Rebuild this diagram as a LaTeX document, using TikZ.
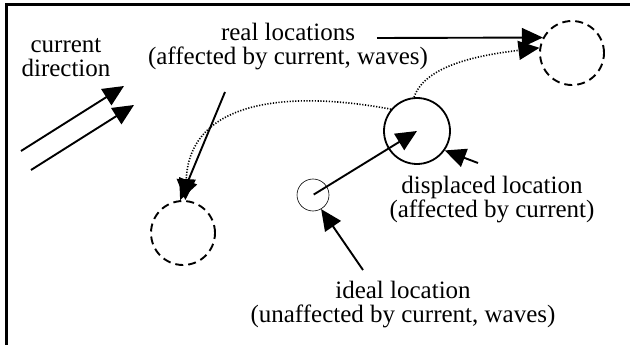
\documentclass[tikz,border=0pt]{standalone}
\usepackage{fontspec}
\setmainfont{Liberation Serif}
\usetikzlibrary{arrows.meta}
\begin{document}
\begin{tikzpicture}[x=1pt,y=-1pt,
  lbl/.style={align=center,inner sep=0pt,font=\fontsize{25}{24}\selectfont},
  arr/.style={line width=1.9pt,-{Triangle[length=21pt,width=19pt]}},
  dotarr/.style={line width=1.6pt,dash pattern=on 1.2pt off 1.6pt,-{Triangle[length=21pt,width=19pt]}},
  dashcirc/.style={circle,draw,line width=1.9pt,dash pattern=on 8pt off 5pt,minimum size=64pt,inner sep=0pt},
  solidcirc/.style={circle,draw,line width=1.8pt,minimum size=66pt,inner sep=0pt},
  idealcirc/.style={circle,draw,line width=0.6pt,minimum size=32pt,inner sep=0pt}]
\useasboundingbox (0,0) rectangle (630,345);
% frame
\draw[line width=3pt] (630,5) -- (6,5) -- (6,345);
% circles
\node[dashcirc] (tr) at (572,53) {};
\node[solidcirc] (disp) at (417,131) {};
\node[dashcirc] (bl) at (183,233) {};
\node[idealcirc] (ideal) at (313,195) {};
\node[inner sep=0pt] (idc) at (313,195) {};
% labels
\node[lbl] (cur) at (66,58) {current\\direction};
\node[lbl] (real) at (288,47) {real locations\\(affected by current, waves)};
\node[lbl] (displ) at (492,200) {displaced location\\(affected by current)};
\node[lbl] (ideall) at (403,305) {ideal location\\(unaffected by current, waves)};
% current arrows
\coordinate (c1s) at (21,151);
\coordinate (c1e) at (124,86);
\coordinate (c2s) at (31,170);
\coordinate (c2e) at (134,105);
\draw[arr] (c1s) -- (c1e);
\draw[arr] (c2s) -- (c2e);
% real locations arrows
\coordinate (rs) at (377,38);
\draw[arr] (rs) -- (tr.152);
\coordinate (rs2) at (225,92);
\draw[arr] (rs2) -- (bl.95);
% dotted paths
\draw[dotarr] (disp.95) .. controls (425,65) and (480,55) .. (tr.171);
\draw[dotarr] (disp.140) .. controls (300,92) and (190,95) .. (bl.86);
% ideal -> displaced
\draw[arr] (idc) -- (disp.center);
% displaced label arrow
\coordinate (ds) at (478,163);
\draw[arr] (ds) -- (disp.-35);
% ideal label arrow
\coordinate (is) at (363,270);
\draw[arr] (is) -- (ideal.-60);
\end{tikzpicture}
\end{document}
